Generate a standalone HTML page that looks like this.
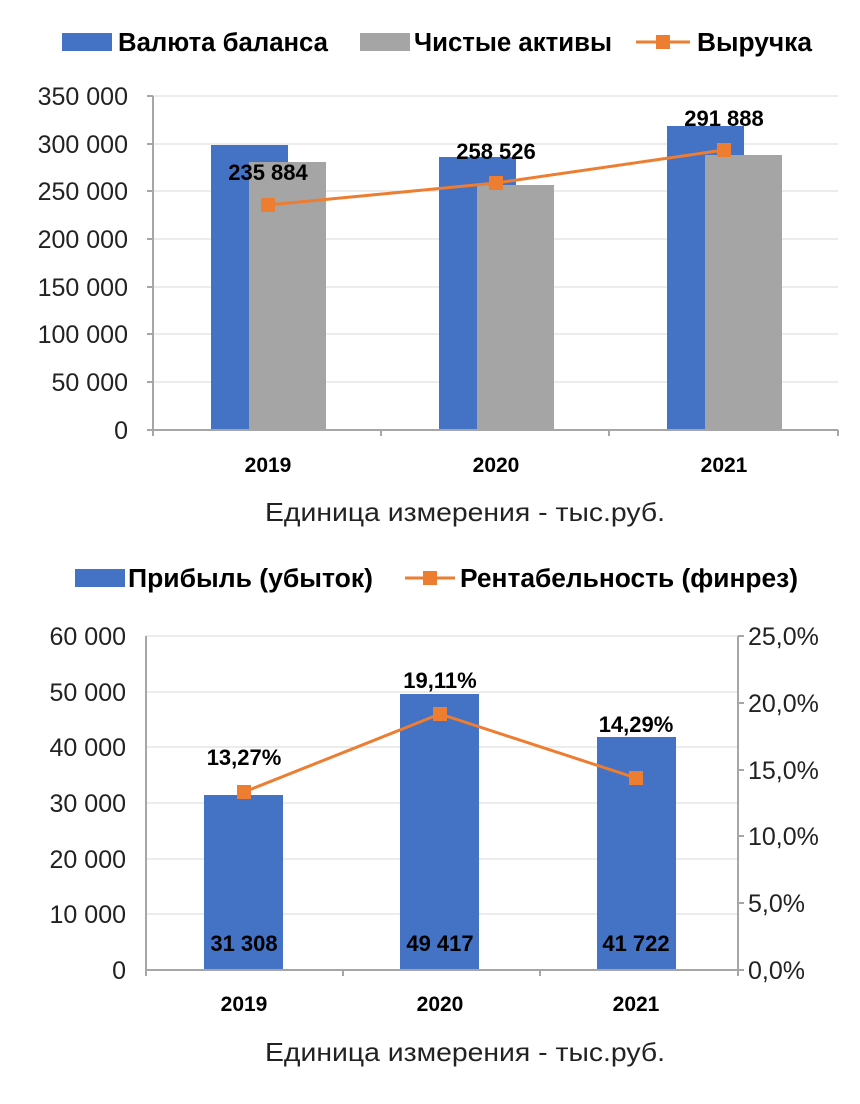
<!DOCTYPE html>
<html><head><meta charset="utf-8"><style>
body{margin:0;background:#fff;}
svg text{font-family:"Liberation Sans","DejaVu Sans",sans-serif;}
</style></head><body>
<svg width="860" height="1099" viewBox="0 0 860 1099" xmlns="http://www.w3.org/2000/svg">
<rect width="860" height="1099" fill="#fff"/>
<rect x="62" y="33" width="50" height="18" fill="#4472c4"/>
<text x="118" y="51" font-size="25.5" font-weight="bold" textLength="210" lengthAdjust="spacingAndGlyphs">Валюта баланса</text>
<rect x="360" y="33" width="50" height="18" fill="#a5a5a5"/>
<text x="414" y="51" font-size="25.5" font-weight="bold" textLength="198" lengthAdjust="spacingAndGlyphs">Чистые активы</text>
<line x1="636" y1="42" x2="690" y2="42" stroke="#ed7d31" stroke-width="3"/>
<rect x="656" y="35" width="14" height="14" fill="#ed7d31"/>
<text x="697" y="51" font-size="25.5" font-weight="bold" textLength="115" lengthAdjust="spacingAndGlyphs">Выручка</text>
<g stroke="#d9d9d9" stroke-width="1">
<line x1="153" y1="96" x2="838" y2="96"/><line x1="153" y1="144" x2="838" y2="144"/>
<line x1="153" y1="191" x2="838" y2="191"/><line x1="153" y1="239" x2="838" y2="239"/>
<line x1="153" y1="287" x2="838" y2="287"/><line x1="153" y1="334" x2="838" y2="334"/>
<line x1="153" y1="382" x2="838" y2="382"/>
</g>
<g font-size="25" text-anchor="end" fill="#222">
<text x="128" y="105">350 000</text><text x="128" y="153">300 000</text>
<text x="128" y="200">250 000</text><text x="128" y="248">200 000</text>
<text x="128" y="296">150 000</text><text x="128" y="343">100 000</text>
<text x="128" y="391">50 000</text><text x="128" y="439">0</text>
</g>
<rect x="211" y="145" width="77" height="285" fill="#4472c4"/>
<rect x="249" y="162" width="77" height="268" fill="#a5a5a5"/>
<rect x="439" y="157" width="77" height="273" fill="#4472c4"/>
<rect x="477" y="185" width="77" height="245" fill="#a5a5a5"/>
<rect x="667" y="126" width="77" height="304" fill="#4472c4"/>
<rect x="705" y="155" width="77" height="275" fill="#a5a5a5"/>
<g stroke="#a6a6a6" stroke-width="2">
<line x1="153" y1="96" x2="153" y2="436"/>
<line x1="147" y1="96" x2="153" y2="96"/><line x1="147" y1="144" x2="153" y2="144"/><line x1="147" y1="191" x2="153" y2="191"/><line x1="147" y1="239" x2="153" y2="239"/><line x1="147" y1="287" x2="153" y2="287"/><line x1="147" y1="334" x2="153" y2="334"/><line x1="147" y1="382" x2="153" y2="382"/>
<line x1="147" y1="430" x2="838" y2="430"/>
<line x1="381" y1="430" x2="381" y2="436"/><line x1="609" y1="430" x2="609" y2="436"/><line x1="838" y1="430" x2="838" y2="436"/>
</g>
<polyline points="268,205 496,183 724,150" fill="none" stroke="#ed7d31" stroke-width="3"/>
<rect x="261" y="198" width="14" height="14" fill="#ed7d31"/>
<rect x="489" y="176" width="14" height="14" fill="#ed7d31"/>
<rect x="717" y="143" width="14" height="14" fill="#ed7d31"/>
<g font-size="22" font-weight="bold" text-anchor="middle">
<text x="268" y="180">235 884</text><text x="496" y="159">258 526</text><text x="724" y="126">291 888</text>
</g>
<g font-size="21" font-weight="bold" text-anchor="middle">
<text x="268" y="472">2019</text><text x="496" y="472">2020</text><text x="724" y="472">2021</text>
</g>
<text x="465" y="521" font-size="26" text-anchor="middle" fill="#222" textLength="400" lengthAdjust="spacingAndGlyphs">Единица измерения - тыс.руб.</text>

<rect x="75" y="569" width="50" height="18" fill="#4472c4"/>
<text x="128" y="587" font-size="25.5" font-weight="bold" textLength="245" lengthAdjust="spacingAndGlyphs">Прибыль (убыток)</text>
<line x1="405" y1="578" x2="455" y2="578" stroke="#ed7d31" stroke-width="3"/>
<rect x="423" y="571" width="14" height="14" fill="#ed7d31"/>
<text x="460" y="587" font-size="25.5" font-weight="bold" textLength="338" lengthAdjust="spacingAndGlyphs">Рентабельность (финрез)</text>
<g stroke="#d9d9d9" stroke-width="1">
<line x1="146" y1="636" x2="738" y2="636"/><line x1="146" y1="692" x2="738" y2="692"/>
<line x1="146" y1="747" x2="738" y2="747"/><line x1="146" y1="803" x2="738" y2="803"/>
<line x1="146" y1="859" x2="738" y2="859"/><line x1="146" y1="914" x2="738" y2="914"/>
</g>
<g font-size="25" text-anchor="end" fill="#222">
<text x="126" y="645">60 000</text><text x="126" y="701">50 000</text>
<text x="126" y="756">40 000</text><text x="126" y="812">30 000</text>
<text x="126" y="868">20 000</text><text x="126" y="923">10 000</text>
<text x="126" y="979">0</text>
</g>
<g font-size="25" fill="#222">
<text x="748" y="645">25,0%</text><text x="748" y="712">20,0%</text>
<text x="748" y="779">15,0%</text><text x="748" y="845">10,0%</text>
<text x="748" y="912">5,0%</text><text x="748" y="979">0,0%</text>
</g>
<rect x="204" y="795" width="79" height="175" fill="#4472c4"/>
<rect x="400" y="694" width="79" height="276" fill="#4472c4"/>
<rect x="597" y="737" width="79" height="233" fill="#4472c4"/>
<g stroke="#a6a6a6" stroke-width="2">
<line x1="146" y1="636" x2="146" y2="976"/>
<line x1="738" y1="636" x2="738" y2="976"/>
<line x1="738" y1="636" x2="744" y2="636"/><line x1="738" y1="703" x2="744" y2="703"/><line x1="738" y1="770" x2="744" y2="770"/><line x1="738" y1="836" x2="744" y2="836"/><line x1="738" y1="903" x2="744" y2="903"/>
<line x1="146" y1="970" x2="744" y2="970"/>
<line x1="343" y1="970" x2="343" y2="976"/><line x1="540" y1="970" x2="540" y2="976"/>
</g>
<polyline points="244,792 440,714 636,778" fill="none" stroke="#ed7d31" stroke-width="3"/>
<rect x="237" y="785" width="14" height="14" fill="#ed7d31"/>
<rect x="433" y="707" width="14" height="14" fill="#ed7d31"/>
<rect x="629" y="771" width="14" height="14" fill="#ed7d31"/>
<g font-size="22" font-weight="bold" text-anchor="middle">
<text x="244" y="765">13,27%</text><text x="440" y="688">19,11%</text><text x="636" y="732">14,29%</text>
<text x="244" y="951">31 308</text><text x="440" y="951">49 417</text><text x="636" y="951">41 722</text>
</g>
<g font-size="21" font-weight="bold" text-anchor="middle">
<text x="244" y="1011">2019</text><text x="440" y="1011">2020</text><text x="636" y="1011">2021</text>
</g>
<text x="465" y="1061" font-size="26" text-anchor="middle" fill="#222" textLength="400" lengthAdjust="spacingAndGlyphs">Единица измерения - тыс.руб.</text>
</svg>
</body></html>
